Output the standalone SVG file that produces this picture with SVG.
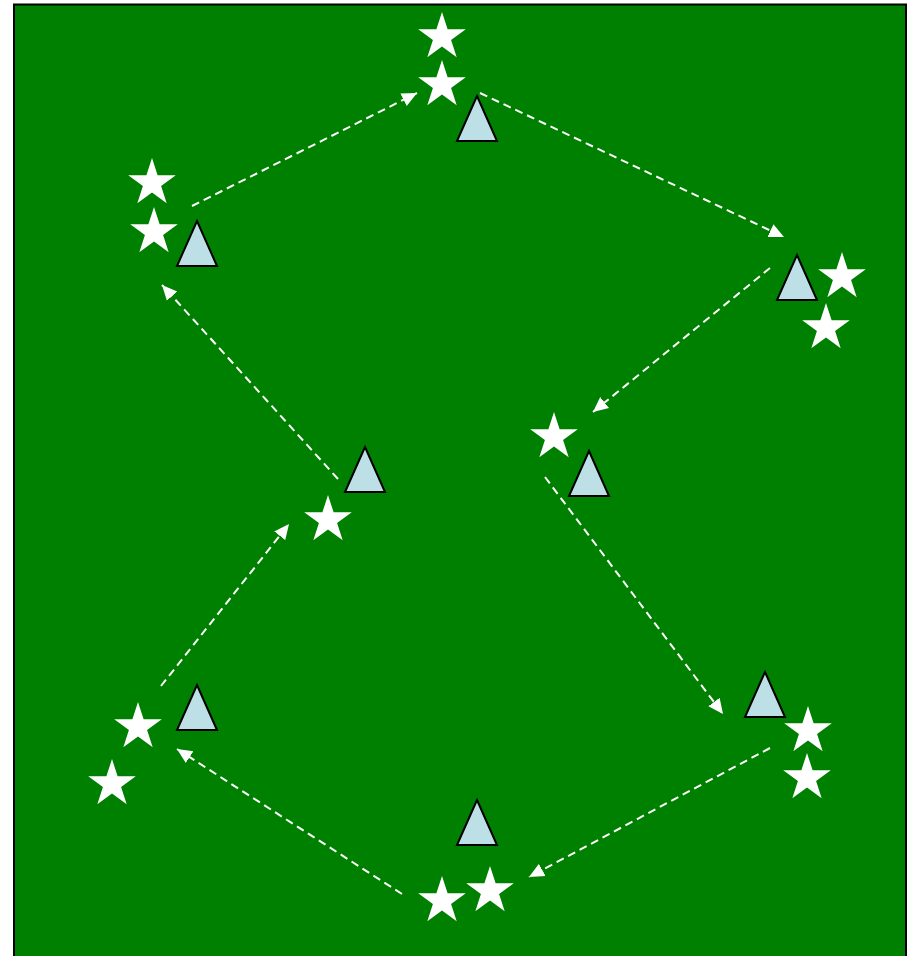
<svg xmlns="http://www.w3.org/2000/svg" width="915" height="956" viewBox="0 0 915 956">
<style>
.tri{fill:#BCE0E6;stroke:#000;stroke-width:2;stroke-linejoin:miter}
.star{fill:#fff}
.conn{stroke:#fff;stroke-width:2;stroke-dasharray:8,5;fill:none;marker-end:url(#ah)}
</style>
<defs>
<path id="st" d="M0,-25 L5.61,-7.73 L23.78,-7.73 L9.08,2.95 L14.69,20.23 L0,9.55 L-14.69,20.23 L-9.08,2.95 L-23.78,-7.73 L-5.61,-7.73 Z"/>
<path id="tr" d="M0,0 L20,45 L-20,45 Z"/>
<marker id="ah" markerUnits="userSpaceOnUse" markerWidth="16" markerHeight="16" refX="15" refY="7" orient="auto" viewBox="0 0 16 14">
<path d="M0,0 L15,7 L0,14 Z" fill="#fff"/>
</marker>
</defs>
<rect x="14" y="4.5" width="892" height="960" fill="#008000" stroke="#000" stroke-width="2"/>
<g id="connectors">
<line class="conn" x1="192" y1="206" x2="417" y2="93"/>
<line class="conn" x1="480" y1="93" x2="784" y2="237"/>
<line class="conn" x1="770" y1="268" x2="593" y2="412"/>
<line class="conn" x1="545" y1="477" x2="723" y2="714"/>
<line class="conn" x1="770" y1="748" x2="529" y2="877"/>
<line class="conn" x1="402" y1="894" x2="177" y2="749"/>
<line class="conn" x1="161" y1="686" x2="289" y2="524"/>
<line class="conn" x1="338" y1="479" x2="162" y2="285"/>
</g>
<g id="nodeA">
<use href="#st" class="star" x="442" y="37"/>
<use href="#st" class="star" x="442" y="85"/>
<use href="#tr" class="tri" x="477" y="96"/>
</g>
<g id="nodeB">
<use href="#st" class="star" x="152" y="183"/>
<use href="#st" class="star" x="154" y="232"/>
<use href="#tr" class="tri" x="197" y="221"/>
</g>
<g id="nodeC">
<use href="#st" class="star" x="842" y="277"/>
<use href="#st" class="star" x="826" y="328"/>
<use href="#tr" class="tri" x="797" y="255"/>
</g>
<g id="nodeD">
<use href="#st" class="star" x="328" y="520"/>
<use href="#tr" class="tri" x="365" y="447"/>
</g>
<g id="nodeE">
<use href="#st" class="star" x="554" y="437"/>
<use href="#tr" class="tri" x="589" y="451"/>
</g>
<g id="nodeF">
<use href="#st" class="star" x="138" y="727"/>
<use href="#st" class="star" x="112" y="784"/>
<use href="#tr" class="tri" x="197" y="685"/>
</g>
<g id="nodeG">
<use href="#st" class="star" x="808" y="731"/>
<use href="#st" class="star" x="807" y="778"/>
<use href="#tr" class="tri" x="765" y="672"/>
</g>
<g id="nodeH">
<use href="#st" class="star" x="442" y="901"/>
<use href="#st" class="star" x="490" y="891"/>
<use href="#tr" class="tri" x="477" y="800"/>
</g>
</svg>
